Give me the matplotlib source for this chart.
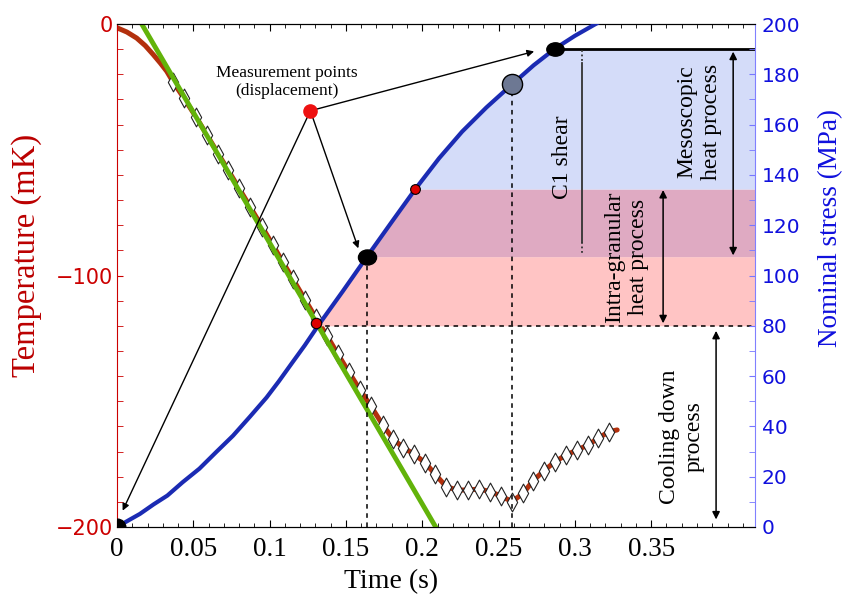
import matplotlib
matplotlib.use("Agg")
import matplotlib.pyplot as plt
import numpy as np
from matplotlib.path import Path
from matplotlib.transforms import Affine2D
from matplotlib.ticker import MultipleLocator

plt.rcParams['font.family'] = 'serif'
plt.rcParams['font.serif'] = ['Liberation Serif', 'DejaVu Serif']

# temperature (mK) against time (s): unmarked lead-in, measured points, end of line
temp_time_lead = [0.0, 0.0065, 0.0129, 0.0185, 0.0238, 0.0285, 0.0326]
temp_lead = [-1.5, -3.2, -5.6, -8.6, -12.2, -15.6, -18.8]
temp_time = [0.0367, 0.0439, 0.0518, 0.0590, 0.0662, 0.0727, 0.0799, 0.0872,
             0.0950, 0.1022, 0.1088, 0.1153, 0.1232, 0.1304, 0.1376, 0.1448,
             0.1520, 0.1592, 0.1664, 0.1743, 0.1809, 0.1874, 0.1946, 0.2018,
             0.2084, 0.2156, 0.2228, 0.2300, 0.2372, 0.2444, 0.2516, 0.2588,
             0.2661, 0.2726, 0.2798, 0.2870, 0.2942, 0.3014, 0.3086, 0.3152,
             0.3224]
temp_vals = [-23.0, -29.5, -37.0, -44.2, -51.5, -58.0, -65.3, -72.7,
             -80.6, -88.0, -94.8, -101.5, -109.6, -117.0, -124.0, -131.4,
             -138.5, -145.5, -152.0, -159.6, -165.0, -168.4, -171.0, -174.4,
             -179.0, -183.9, -185.3, -185.3, -184.9, -185.9, -187.7, -189.9,
             -186.6, -181.6, -177.6, -174.0, -171.4, -169.4, -167.4, -164.7,
             -162.1]
temp_time_tail = [0.3277]
temp_tail = [-161.4]

# straight fit of the cooling slope
fit_time = [0.0162, 0.2088]
fit_temp = [0.0, -200.0]

# nominal stress (MPa) against time (s)
stress_time = [0.0, 0.008, 0.015, 0.024, 0.033, 0.043, 0.054, 0.065, 0.076,
               0.087, 0.098, 0.106, 0.115, 0.123, 0.1317, 0.148, 0.1638,
               0.180, 0.1955, 0.211, 0.2261, 0.242, 0.2588, 0.273, 0.2872,
               0.300, 0.3124, 0.330]
stress_vals = [0.0, 2.8, 5.2, 9.0, 12.5, 17.8, 23.2, 29.8, 36.3,
               43.8, 51.5, 57.9, 65.5, 72.2, 80.0, 93.8, 107.5,
               121.3, 134.4, 146.6, 157.2, 166.8, 176.0, 183.6, 190.3,
               195.3, 199.6, 205.5]

# stress levels bounding the process bands
band_levels = [80.0, 107.5, 134.4, 190.0]
band_colors = ['#ffc4c4', '#dfaac2', '#d4dcf9']

# marked points (stress axis unless noted)
cross_pt = (0.1307, 81.0)
ellipse_low = (0.1638, 107.5)
red_pt = (0.1955, 134.4)
grey_pt = (0.2588, 176.0)
ellipse_top = (0.2872, 190.0)
meas_pt = (0.1267, -34.5)          # temperature axis
arrow_targets = [(0.1581, -89.2), (0.2733, -10.9), (0.0037, -193.5)]  # temperature axis
c1_time = 0.3047

xticks = [0, 0.05, 0.1, 0.15, 0.2, 0.25, 0.3, 0.35]
xtick_labels = ['0', '0.05', '0.1', '0.15', '0.2', '0.25', '0.3', '0.35']
xmax = 0.418

red = '#b3300d'
green = '#62b30a'
blue = '#1b2bb3'


def to_stress(temp):
    # both y axes span 200 units, so -200 mK sits on 0 MPa
    return temp + 200


fig = plt.figure(figsize=(8.58, 6.0), dpi=100)
ax1 = fig.add_axes([117 / 858, 73 / 600, 638 / 858, 503 / 600])
ax2 = ax1.twinx()

ax1.set_xlim(0, xmax)
ax1.set_ylim(-200, 0)
ax2.set_ylim(0, 200)

# bands between the stress curve and the right edge
for lo, hi, col in zip(band_levels[:-1], band_levels[1:], band_colors):
    s = np.linspace(lo, hi, 80)
    ax2.fill_betweenx(s, np.interp(s, stress_vals, stress_time), xmax,
                      color=col, lw=0, zorder=0)

dash = (0, (3, 3))
ax2.plot([cross_pt[0], xmax], [80, 80], color='k', ls=dash, lw=1.1, zorder=1)
ax2.plot([ellipse_low[0]] * 2, [0, ellipse_low[1]], color='k', ls=dash, lw=1.1, zorder=1)
ax2.plot([grey_pt[0]] * 2, [0, grey_pt[1]], color='k', ls=dash, lw=1.1, zorder=1)
ax2.plot([ellipse_top[0], xmax], [190, 190], color='k', lw=2, zorder=1)

# C1 shear marker line
ax2.plot([c1_time] * 2, [184.4, 113.4], color='#333333', lw=1.3, zorder=1)
ax2.plot([c1_time] * 2, [189.5, 184.4], color='#333333', lw=1.3, ls=(0, (1, 1.5)), zorder=1)
ax2.plot([c1_time] * 2, [113.4, 108], color='#333333', lw=1.3, ls=(0, (1, 1.5)), zorder=1)

# temperature curve
diamond = Path([(0, -1), (0.55, 0), (0, 1), (-0.55, 0), (0, -1)],
               [Path.MOVETO, Path.LINETO, Path.LINETO, Path.LINETO, Path.CLOSEPOLY])
ax1.plot(temp_time_lead + temp_time + temp_time_tail, temp_lead + temp_vals + temp_tail,
         color=red, lw=3.6, zorder=2, solid_capstyle='round', solid_joinstyle='round')
ax1.plot(temp_time, temp_vals, ls='none', marker=diamond, ms=13.5, mfc='white',
         mec='#222222', mew=0.8, zorder=3)
ax1.plot(fit_time, fit_temp, color=green, lw=3.5, zorder=4)

# stress curve
ax2.plot(stress_time, stress_vals, color=blue, lw=3, zorder=3, solid_joinstyle='round')

# double arrows
dbl = dict(arrowstyle='<|-|>', color='k', lw=1.1, mutation_scale=11, shrinkA=0, shrinkB=0)
ax2.annotate('', xy=(0.4037, 108), xytext=(0.4037, 189), arrowprops=dbl)
ax2.annotate('', xy=(0.3578, 81), xytext=(0.3578, 134), arrowprops=dbl)
ax2.annotate('', xy=(0.3925, 3), xytext=(0.3925, 78), arrowprops=dbl)

ax2.text(0.2916, 147, 'C1 shear', rotation=90, ha='center', va='center', fontsize=17)
ax2.text(0.3814, 161, 'Mesoscopic\nheat process', rotation=90, ha='center',
         va='center', fontsize=17, multialignment='center')
ax2.text(0.334, 107.3, 'Intra-granular\nheat process', rotation=90, ha='center',
         va='center', fontsize=17, multialignment='center')
ax2.text(0.370, 35.8, 'Cooling down\nprocess', rotation=90, ha='center',
         va='center', fontsize=17, multialignment='center')

# markers on the stress curve
ell_a = Path.unit_circle().transformed(Affine2D().scale(1.2, 1.0))
ell_b = Path.unit_circle().transformed(Affine2D().scale(1.3, 1.0))
ax2.plot(*ellipse_low, marker=ell_a, ms=13, color='k', zorder=6)
ax2.plot(*ellipse_top, marker=ell_b, ms=12.5, color='k', zorder=6)
ax2.plot(*grey_pt, marker='o', ms=14.5, mfc='#6d7893', mec='k', mew=1, zorder=6)
ax2.plot(*cross_pt, marker='o', ms=7.5, mfc='#dd0000', mec='k', mew=0.8, zorder=7)
ax2.plot(*red_pt, marker='o', ms=7, mfc='#dd0000', mec='k', mew=0.8, zorder=7)

# measurement points annotation
ax2.text(0.1114, to_stress(-23.0), 'Measurement points\n(displacement)',
         ha='center', va='center', fontsize=12.5, zorder=8)
for tx, ty in arrow_targets:
    ax2.annotate('', xy=(tx, to_stress(ty)), xytext=(meas_pt[0], to_stress(meas_pt[1])),
                 arrowprops=dict(arrowstyle='-|>', color='k', lw=1, mutation_scale=10,
                                 shrinkA=4, shrinkB=0), zorder=8)
ax2.plot(meas_pt[0], to_stress(meas_pt[1]), marker='o', ms=9.5, color='#ee1111', zorder=9)
ax2.plot(0, to_stress(-200), marker='o', ms=12, color='k', zorder=9)

# axes styling
ax1.set_xticks(xticks)
ax1.set_xticklabels(xtick_labels)
ax1.xaxis.set_minor_locator(MultipleLocator(0.01))
ax1.tick_params(axis='x', which='both', direction='in', top=True, bottom=True,
                labelsize=19.5, pad=7)
ax1.tick_params(axis='x', which='major', length=5)
ax1.tick_params(axis='x', which='minor', length=3)

ax1.set_yticks([0, -100, -200])
ax1.yaxis.set_minor_locator(MultipleLocator(10))
ax1.tick_params(axis='y', which='both', direction='in', colors='#cc0000',
                labelsize=15, pad=3, length=4.5)
ax2.set_yticks(range(0, 201, 20))
ax2.yaxis.set_minor_locator(MultipleLocator(10))
ax2.tick_params(axis='y', which='both', direction='in', color='#7777ff',
                labelcolor='#1010dd', labelsize=14.5, pad=5, length=4.5)
for lab in ax1.get_yticklabels() + ax2.get_yticklabels():
    lab.set_fontfamily('DejaVu Sans')

ax1.spines['left'].set_color('#cc0000')
ax1.spines['right'].set_visible(False)
ax2.spines['left'].set_visible(False)
ax2.spines['right'].set_color('#8080ff')

ax1.set_xlabel('Time (s)', fontsize=20)
ax1.xaxis.set_label_coords(0.4295, -0.0835)
ax1.set_ylabel('Temperature (mK)', color='#bb0000', fontsize=23.5)
ax1.yaxis.set_label_coords(-0.1176, 0.539)
ax2.set_ylabel('Nominal stress (MPa)', color='#1010dd', fontsize=19.5)
ax2.yaxis.set_label_coords(1.0987, 0.594)

fig.savefig('out.png', dpi=100)
